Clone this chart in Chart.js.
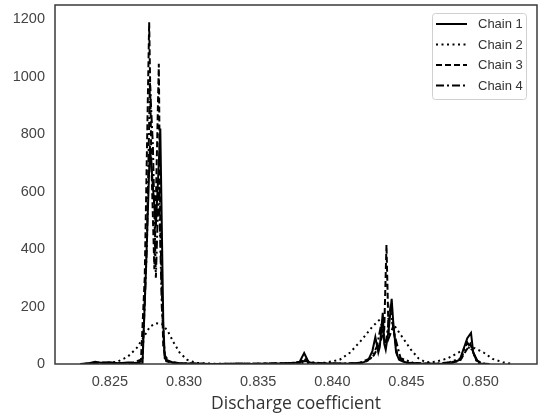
<!DOCTYPE html>
<html>
<head>
<meta charset="utf-8">
<script src="https://cdn.jsdelivr.net/npm/chart.js@4.4.1/dist/chart.umd.min.js"></script>
<style>
  html, body { margin: 0; padding: 0; background: #fff; }
</style>
</head>
<body>
<canvas id="c" width="538" height="417"></canvas>
<script>
// trace samples
const chain1X = [0.8230, 0.8236, 0.8240, 0.8244, 0.8250, 0.8256, 0.8262, 0.8266, 0.8270, 0.8272,
    0.82745, 0.8277, 0.8279, 0.8281, 0.8283, 0.8284, 0.8286, 0.8287, 0.8289, 0.8292,
    0.8296, 0.8302, 0.8310, 0.8320, 0.8335, 0.8350, 0.8365, 0.8375, 0.8378, 0.8381,
    0.8384, 0.8388, 0.8400, 0.8412, 0.8420, 0.8424, 0.8427, 0.8429, 0.8431, 0.8432,
    0.8434, 0.8435, 0.8436, 0.8438, 0.8440, 0.8441, 0.8443, 0.8445, 0.8448, 0.8452,
    0.8460, 0.8470, 0.8480, 0.8486, 0.8489, 0.8491, 0.84935, 0.8495, 0.8497, 0.8500, 0.8506];
const chain1Y = [0, 3, 8, 4, 6, 3, 5, 2, 1, 0,
    350, 760, 620, 480, 700, 820, 150, 20, 12, 6,
    3, 2, 1, 0, 1, 0, 2, 4, 8, 38,
    6, 3, 2, 1, 4, 12, 45, 94, 40, 60,
    178, 70, 50, 120, 227, 150, 40, 15, 8, 3,
    1, 0, 2, 15, 60, 90, 108, 40, 15, 2, 0];

const chain2X = [0.8230, 0.8245, 0.8255, 0.8262, 0.8268, 0.8273, 0.8277, 0.8281, 0.8285, 0.8289,
    0.8293, 0.8297, 0.8302, 0.8308, 0.8320, 0.8350, 0.8375, 0.8395, 0.8405, 0.8412,
    0.8420, 0.8427, 0.8433, 0.8437, 0.8441, 0.8447, 0.8453, 0.8458, 0.8463, 0.8470,
    0.8478, 0.8485, 0.8491, 0.8496, 0.8502, 0.8508, 0.8515, 0.8522];
const chain2Y = [0, 2, 8, 25, 55, 95, 130, 142, 140, 115,
    75, 40, 15, 4, 1, 1, 3, 4, 15, 40,
    85, 130, 160, 162, 140, 95, 50, 20, 6, 8,
    20, 40, 58, 55, 40, 18, 6, 0];

const chain3X = [0.8232, 0.8240, 0.8248, 0.8258, 0.8266, 0.8271, 0.82735, 0.82765, 0.8278, 0.8280,
    0.8281, 0.8283, 0.8284, 0.8286, 0.8288, 0.8292, 0.8300, 0.8320, 0.8350, 0.8378,
    0.8381, 0.8385, 0.8410, 0.8422, 0.8428, 0.8432, 0.8435, 0.84365, 0.8438, 0.8441,
    0.8444, 0.8450, 0.8470, 0.8486, 0.8490, 0.8493, 0.8497, 0.8503];
const chain3Y = [0, 4, 2, 3, 6, 15, 300, 1190, 700, 330,
    560, 1045, 480, 60, 10, 4, 2, 0, 1, 3,
    20, 2, 1, 6, 30, 70, 120, 415, 90, 130,
    25, 4, 1, 10, 45, 70, 12, 0];

const chain4X = [0.8234, 0.8244, 0.8252, 0.8260, 0.8268, 0.8272, 0.8275, 0.8277, 0.8279, 0.8281,
    0.8283, 0.8285, 0.8287, 0.8290, 0.8298, 0.8315, 0.8340, 0.8370, 0.8381, 0.8395,
    0.8418, 0.8426, 0.8430, 0.8433, 0.8436, 0.8439, 0.8442, 0.8446, 0.8455, 0.8475,
    0.8487, 0.8491, 0.8494, 0.8499];
const chain4Y = [0, 5, 3, 2, 4, 10, 420, 980, 760, 300,
    640, 200, 30, 8, 2, 0, 1, 2, 10, 1,
    3, 20, 60, 140, 70, 190, 100, 20, 3, 0,
    20, 75, 50, 0];

const chainNames = ["Chain 1", "Chain 2", "Chain 3", "Chain 4"];
const xTicks = [0.825, 0.830, 0.835, 0.840, 0.845, 0.850];
const yTicks = [0, 200, 400, 600, 800, 1000, 1200];

const dashes = [[], [2, 3.5], [6, 3], [8, 3, 2, 3]];
const widths = [2, 2, 2, 2];

function pts(xs, ys) {
    return xs.map((x, i) => ({ x: x, y: ys[i] }));
}

const series = [pts(chain1X, chain1Y), pts(chain2X, chain2Y), pts(chain3X, chain3Y), pts(chain4X, chain4Y)];

// axes frame + legend box drawn on top, matplotlib style
const frameAndLegend = {
    id: "frameAndLegend",
    afterDatasetsDraw(chart) {
        const ctx = chart.ctx;
        const a = chart.chartArea;
        ctx.save();
        ctx.strokeStyle = "#3a3a3a";
        ctx.lineWidth = 1.5;
        ctx.setLineDash([]);
        ctx.strokeRect(a.left, a.top, a.right - a.left, a.bottom - a.top);

        const bx = a.right - 105, by = a.top + 8, bw = 94, bh = 86;
        ctx.fillStyle = "rgba(255,255,255,0.85)";
        ctx.strokeStyle = "#d0d0d0";
        ctx.lineWidth = 1;
        ctx.beginPath();
        ctx.roundRect(bx + 0.5, by + 0.5, bw, bh, 3);
        ctx.fill();
        ctx.stroke();

        ctx.font = "13px 'Liberation Sans', Arial, sans-serif";
        ctx.textBaseline = "middle";
        chainNames.forEach((name, i) => {
            const y = by + 11 + i * 20.5;
            ctx.strokeStyle = "#000";
            ctx.lineWidth = widths[i];
            ctx.setLineDash(dashes[i]);
            ctx.beginPath();
            ctx.moveTo(bx + 4, y);
            ctx.lineTo(bx + 35, y);
            ctx.stroke();
            ctx.setLineDash([]);
            ctx.fillStyle = "#333";
            ctx.fillText(name, bx + 46, y + 0.5);
        });
        ctx.restore();
    },
};

const tickFont = { family: "'Liberation Sans', Arial, sans-serif", size: 14.5 };

function noEdgePadding(s) {
    s.paddingTop = 0;
    s.paddingBottom = 0;
    s.paddingLeft = 0;
    s.paddingRight = 0;
}

new Chart(document.getElementById("c").getContext("2d"), {
    type: "line",
    data: {
        datasets: series.map((d, i) => ({
            label: chainNames[i],
            data: d,
            borderColor: "#000",
            borderWidth: widths[i],
            borderDash: dashes[i],
            pointRadius: 0,
            tension: 0,
            fill: false,
        })),
    },
    options: {
        responsive: false,
        animation: false,
        layout: { padding: { left: 0, right: 1, top: 5, bottom: 0 } },
        plugins: { legend: { display: false }, tooltip: { enabled: false } },
        scales: {
            x: {
                type: "linear",
                min: 0.8213,
                max: 0.8538,
                grid: { display: false, drawTicks: false },
                border: { display: false },
                afterBuildTicks: (s) => {
                    s.ticks = xTicks.map((v) => ({ value: v }));
                },
                afterFit: (s) => {
                    s.height = 53;
                    noEdgePadding(s);
                },
                ticks: {
                    autoSkip: false,
                    maxRotation: 0,
                    padding: 9,
                    color: "#444",
                    font: tickFont,
                    callback: (v) => Number(v).toFixed(3),
                },
                title: {
                    display: true,
                    text: "Discharge coefficient",
                    color: "#333",
                    font: { family: "'Open Sans', sans-serif", size: 17.5 },
                    padding: { top: 0, bottom: 2 },
                },
            },
            y: {
                min: 0,
                max: 1250,
                grid: { display: false, drawTicks: false },
                border: { display: false },
                afterBuildTicks: (s) => {
                    s.ticks = yTicks.map((v) => ({ value: v }));
                },
                afterFit: (s) => {
                    s.width = 55;
                    noEdgePadding(s);
                },
                ticks: {
                    padding: 10,
                    color: "#444",
                    font: tickFont,
                    callback: (v) => String(v),
                },
            },
        },
    },
    plugins: [frameAndLegend],
});
</script>
</body>
</html>
